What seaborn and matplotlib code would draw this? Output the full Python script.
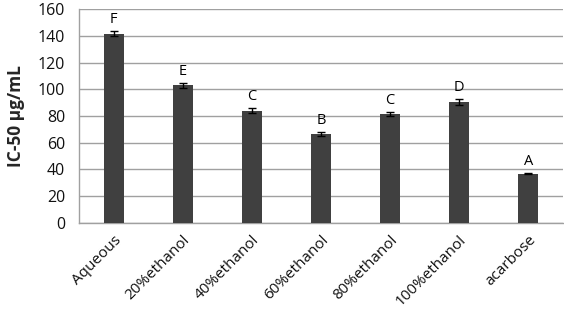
import matplotlib
matplotlib.use("Agg")
import matplotlib.pyplot as plt
import seaborn as sns
import pandas as pd
import numpy as np

categories = ["Aqueous", "20%ethanol", "40%ethanol", "60%ethanol", "80%ethanol", "100%ethanol", "acarbose"]
values = [141.5, 103.0, 84.0, 66.5, 81.5, 90.5, 37.0]
errors = [2.0, 1.8, 2.0, 1.5, 1.5, 2.5, 0.3]
letters = ["F", "E", "C", "B", "C", "D", "A"]
yticks = [0, 20, 40, 60, 80, 100, 120, 140, 160]

sns.set_theme(style="white")
plt.rcParams['font.family'] = ['Open Sans', 'DejaVu Sans']

df = pd.DataFrame({"cat": categories, "val": values})
fig = plt.figure(figsize=(5.64, 3.11), dpi=100)
ax = fig.add_axes([0.140, 0.283, 0.858, 0.688])

sns.barplot(data=df, x="cat", y="val", color="#404040", saturation=1, width=0.29, ax=ax, errorbar=None, zorder=3)
for p in ax.patches:
    p.set_edgecolor("none")
x = np.arange(len(categories))
ax.errorbar(x, values, yerr=errors, fmt="none", ecolor="black", elinewidth=1, capsize=3, capthick=1, zorder=4)
for xi, v, e, l in zip(x, values, errors, letters):
    ax.text(xi, v + e + 3, l, ha="center", va="bottom", fontsize=10.5, color="black")

ax.set_ylim(0, 160)
ax.set_xlim(-0.5, len(categories) - 0.5)
ax.set_yticks(yticks)
ax.set_yticklabels([str(t) for t in yticks], fontsize=11.5, color="#111111")
ax.yaxis.grid(True, color="#a0a0a0", linewidth=1, zorder=0)
ax.set_axisbelow(True)
ax.set_xlabel("")
ax.set_ylabel("IC-50 μg/mL", fontsize=12.5, fontweight="bold", labelpad=9)
ax.set_xticks(x)
ax.set_xticklabels(categories, rotation=45, ha="right", rotation_mode="anchor", fontsize=11, color="#111111")
ax.tick_params(axis="x", which="major", length=0, pad=7)
ax.set_xticks(np.arange(-0.5, len(categories)), minor=True)
ax.tick_params(axis="x", which="minor", length=5, color="#a0a0a0", width=1, direction="out")
ax.tick_params(axis="y", length=4, color="#a0a0a0", width=1, direction="out", pad=6)
for s in ["top", "right"]:
    ax.spines[s].set_visible(False)
for s in ["left", "bottom"]:
    ax.spines[s].set_color("#a0a0a0")
    ax.spines[s].set_linewidth(1)

fig.savefig("out.png", dpi=100)
